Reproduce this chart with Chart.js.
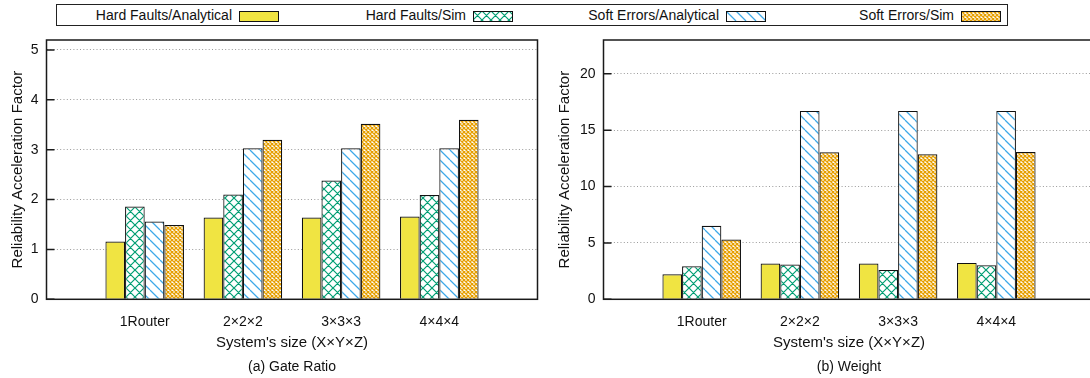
<!DOCTYPE html>
<html>
<head>
<meta charset="utf-8">
<script src="https://cdn.jsdelivr.net/npm/chart.js@4/dist/chart.umd.min.js"></script>
<style>
  html, body { margin: 0; padding: 0; background: #fff; }
  body { width: 1090px; height: 378px; overflow: hidden; position: relative;
         font-family: "Liberation Sans", Arial, sans-serif; color: #111; }
  canvas { position: absolute; top: 0; }
  #key { position: absolute; left: 56px; top: 4px; width: 950px; height: 20px;
         border: 1px solid #222; box-sizing: content-box; }
  .key-text { position: absolute; top: 2px; font-size: 14px; line-height: 16px;
              white-space: nowrap; text-align: right; }
  .key-swatch { position: absolute; top: 6px; }
</style>
</head>
<body>
<div id="key"></div>
<canvas id="gate" width="545" height="378" style="left:0"></canvas>
<canvas id="weight" width="560" height="378" style="left:545px"></canvas>
<script>
// Categories (system sizes)
const categories = ['1Router', '2×2×2', '3×3×3', '4×4×4'];

// Series names
const seriesNames = ['Hard Faults/Analytical', 'Hard Faults/Sim', 'Soft Errors/Analytical', 'Soft Errors/Sim'];

// (a) Gate Ratio
const gateHardAnalytical = [1.16, 1.64, 1.64, 1.66];
const gateHardSim        = [1.86, 2.10, 2.38, 2.09];
const gateSoftAnalytical = [1.56, 3.03, 3.03, 3.03];
const gateSoftSim        = [1.49, 3.20, 3.52, 3.60];

// (b) Weight
const weightHardAnalytical = [2.22, 3.17, 3.17, 3.23];
const weightHardSim        = [2.93, 3.08, 2.61, 3.02];
const weightSoftAnalytical = [6.52, 16.71, 16.71, 16.71];
const weightSoftSim        = [5.30, 13.04, 12.86, 13.07];

// Y ticks
const gateTicks = [0, 1, 2, 3, 4, 5];
const weightTicks = [0, 5, 10, 15, 20];

// ---- fill styles ----
function makeFill(kind) {
  if (kind === 'solid') return '#f0e442';
  const c = document.createElement('canvas');
  const g = c.getContext('2d');
  let s, color, lw, both;
  if (kind === 'cross')      { s = 9;  color = '#009e73'; lw = 1.2; both = true; }
  else if (kind === 'back')  { s = 10; color = '#3da8e8'; lw = 1.25; both = false; }
  else                       { s = 4;  color = '#e69f00'; lw = 1.3; both = true; }
  c.width = s; c.height = s;
  g.fillStyle = '#fff';
  g.fillRect(0, 0, s, s);
  g.strokeStyle = color;
  g.lineWidth = lw;
  g.beginPath();
  for (const o of [-s, 0, s]) {
    g.moveTo(o, 0); g.lineTo(o + s, s);
    if (both) { g.moveTo(o + s, 0); g.lineTo(o, s); }
  }
  g.stroke();
  return g.createPattern(c, 'repeat');
}
const fillKinds = ['solid', 'cross', 'back', 'dense'];
const fills = fillKinds.map(makeFill);

// ---- key across both panels ----
const keyTextEnd = [231, 465, 718, 953];
const key = document.getElementById('key');
seriesNames.forEach((name, i) => {
  const t = document.createElement('div');
  t.className = 'key-text';
  t.textContent = name;
  t.style.right = (1007 - keyTextEnd[i] - 1) + 'px';
  key.appendChild(t);
  const sw = document.createElement('canvas');
  sw.className = 'key-swatch';
  sw.width = 40; sw.height = 11;
  sw.style.left = (keyTextEnd[i] + 8 - 57) + 'px';
  const g = sw.getContext('2d');
  g.fillStyle = fills[i];
  g.fillRect(0, 0, 40, 11);
  g.strokeStyle = '#111';
  g.lineWidth = 1;
  g.strokeRect(0.5, 0.5, 39, 10);
  key.appendChild(sw);
});

// ---- frame with inward ticks ----
const framePlugin = {
  id: 'frame',
  afterDatasetsDraw(chart) {
    const { ctx, chartArea: a, scales: { y } } = chart;
    ctx.save();
    ctx.strokeStyle = '#1a1a1a';
    ctx.lineWidth = 1.5;
    ctx.beginPath();
    y.ticks.forEach(t => {
      const py = y.getPixelForValue(t.value);
      ctx.moveTo(a.left, py); ctx.lineTo(a.left + 8, py);
    });
    ctx.stroke();
    ctx.strokeRect(a.left, a.top, a.right - a.left, a.bottom - a.top);
    ctx.restore();
  }
};

Chart.defaults.font.family = '"Liberation Sans", Arial, sans-serif';
Chart.defaults.font.size = 14;
Chart.defaults.color = '#111';

function buildChart(id, seriesData, yMax, yStep, yTickList, yWidth, padRight, titlePadTop, caption) {
  const labels = [''].concat(categories, ['']);
  return new Chart(document.getElementById(id), {
    type: 'bar',
    data: {
      labels,
      datasets: seriesData.map((vals, i) => ({
        label: seriesNames[i],
        data: [null].concat(vals, [null]),
        backgroundColor: fills[i],
        borderColor: '#111',
        borderWidth: 1.2,
        barPercentage: 1.0,
        categoryPercentage: 0.8
      }))
    },
    options: {
      responsive: false,
      animation: false,
      devicePixelRatio: 1,
      layout: { padding: { top: 40, right: padRight, left: 0, bottom: 0 } },
      plugins: {
        legend: { display: false },
        tooltip: { enabled: false },
        title: {
          display: true, text: caption, position: 'bottom', fullSize: false,
          font: { size: 14, weight: 'normal' }, color: '#111',
          padding: { top: 4, bottom: 2 }
        }
      },
      scales: {
        x: {
          offset: false,
          grid: { display: false },
          border: { display: false },
          ticks: { autoSkip: false, maxRotation: 0, padding: 6.3, color: '#111', font: { size: 14 } },
          title: { display: true, text: "System's size (X×Y×Z)", font: { size: 15 }, padding: { top: 4, bottom: 3.2 }, color: '#111' },
          afterFit(scale) { scale.height = 55.9; }
        },
        y: {
          min: 0, max: yMax,
          afterBuildTicks(scale) { scale.ticks = yTickList.map(v => ({ value: v })); },
          ticks: { stepSize: yStep, includeBounds: false, padding: 8, color: '#111', font: { size: 14 } },
          grid: {
            drawTicks: false,
            color: ctx => (ctx.tick && ctx.tick.value === 0) ? 'rgba(0,0,0,0)' : '#9a9a9a',
            lineWidth: 1
          },
          border: { display: false, dash: [1, 2.3] },
          title: { display: true, text: 'Reliability Acceleration Factor', font: { size: 15 }, padding: { top: titlePadTop, bottom: 0 }, color: '#111' },
          afterFit(scale) { scale.width = yWidth; }
        }
      }
    },
    plugins: [framePlugin]
  });
}

buildChart('gate',
  [gateHardAnalytical, gateHardSim, gateSoftAnalytical, gateSoftSim],
  5.2, 1, gateTicks, 46.5, 7.5, 8.5, '(a) Gate Ratio');

buildChart('weight',
  [weightHardAnalytical, weightHardSim, weightSoftAnalytical, weightSoftSim],
  23, 5, weightTicks, 58.5, 10.5, 11, '(b) Weight');
</script>
</body>
</html>
